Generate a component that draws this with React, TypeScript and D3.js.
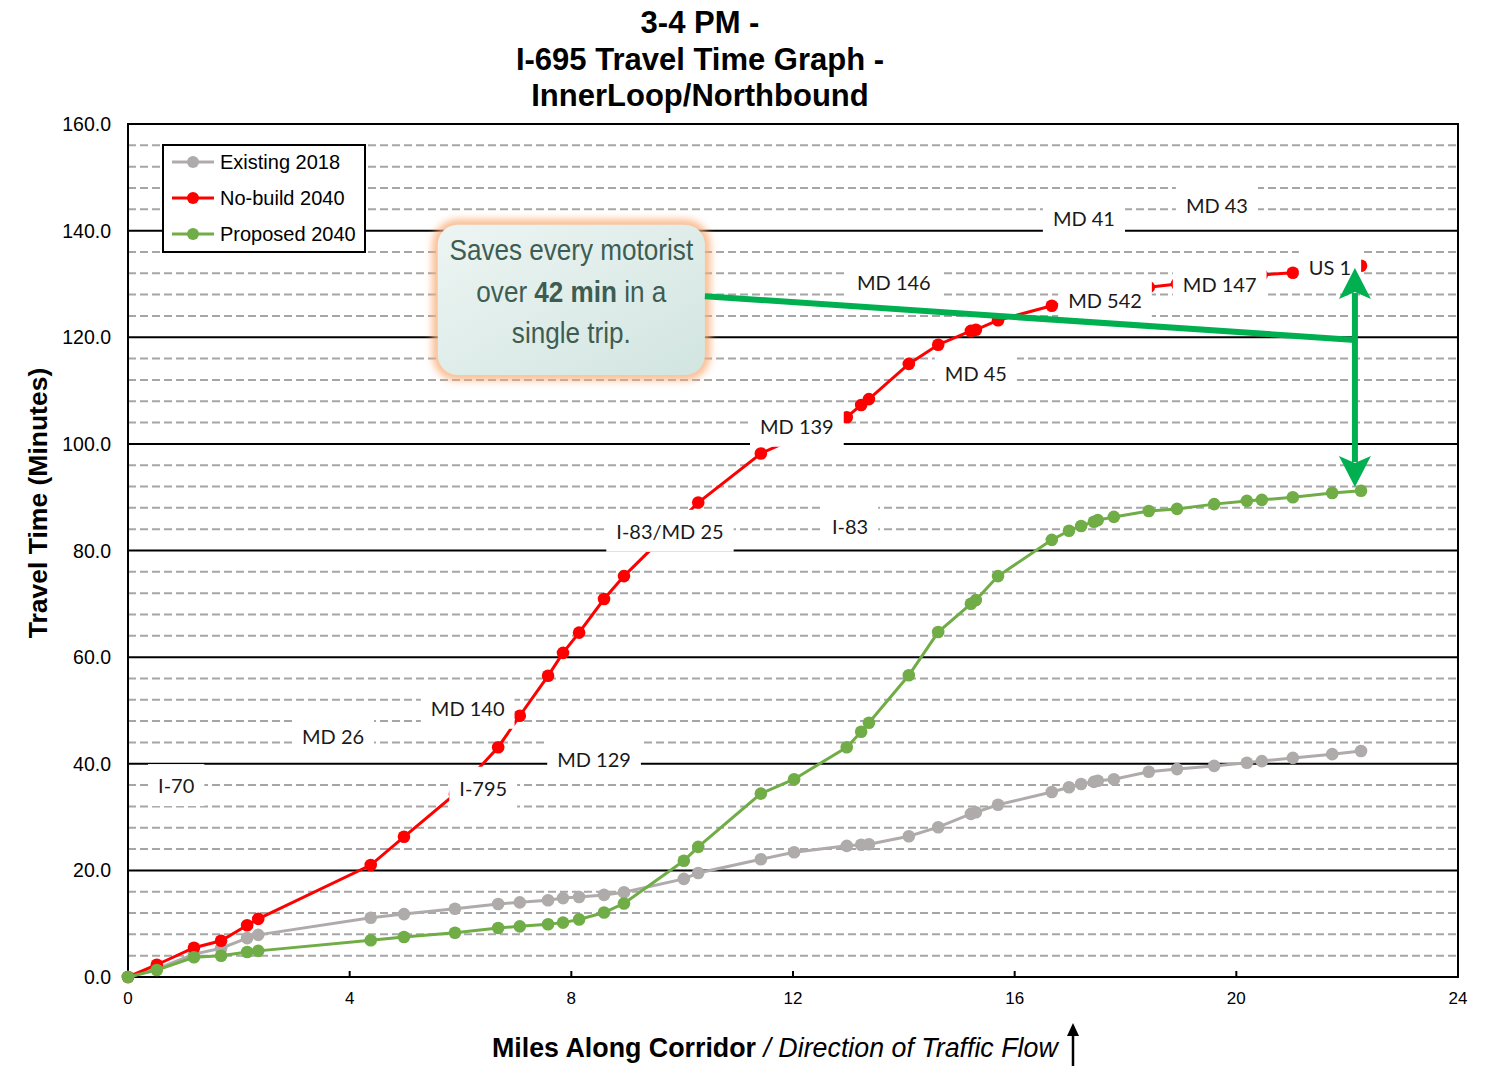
import React, { useEffect, useRef } from "react";
import * as d3 from "d3";

// miles along corridor, shared by every series
const miles = [
  0, 0.52, 1.19, 1.68, 2.15, 2.35, 4.38, 4.98, 5.9, 6.68, 7.07, 7.58, 7.85, 8.14, 8.59, 8.95,
  10.03, 10.29, 11.42, 12.02, 12.97, 13.23, 13.37, 14.09, 14.62, 15.21, 15.3, 15.7, 16.67,
  16.98, 17.2, 17.43, 17.5, 17.79, 18.42, 18.93, 19.6, 20.19, 20.46, 21.02, 21.73, 22.25,
];

const existing2018 = [
  0, 1.5, 4.3, 5.4, 7.3, 7.9, 11.1, 11.8, 12.8, 13.7, 14.0, 14.4, 14.8, 15.0, 15.4, 15.9,
  18.4, 19.5, 22.1, 23.4, 24.6, 24.8, 24.9, 26.4, 28.1, 30.6, 30.9, 32.3, 34.7,
  35.6, 36.2, 36.6, 36.8, 37.1, 38.5, 39.0, 39.6, 40.2, 40.5, 41.1, 41.8, 42.4,
];

const noBuild2040 = [
  0, 2.3, 5.5, 6.8, 9.7, 10.9, 21.0, 26.3, 34.3, 43.1, 49.0, 56.5, 60.8, 64.6, 70.9, 75.2,
  86.3, 89.0, 98.2, 101.0, 105.0, 107.3, 108.4, 115.0, 118.6, 121.2, 121.4, 123.2, 125.9,
  126.5, 126.9, 127.4, 127.5, 128.1, 129.4, 130.0, 130.7, 131.3, 131.7, 132.1, 132.8, 133.4,
];

const proposed2040 = [
  0, 1.3, 3.7, 4.0, 4.7, 4.9, 6.9, 7.5, 8.3, 9.2, 9.5, 9.9, 10.2, 10.8, 12.1, 13.8,
  21.8, 24.4, 34.4, 37.1, 43.1, 46.0, 47.7, 56.6, 64.7, 70.0, 70.7, 75.2, 82.0,
  83.7, 84.6, 85.4, 85.7, 86.3, 87.4, 87.8, 88.7, 89.3, 89.5, 90.0, 90.8, 91.2,
];

const seriesNames = ["Existing 2018", "No-build 2040", "Proposed 2040"];

// interchange labels (anchor in miles / minutes)
const routeNames = [
  "I-70", "MD 26", "MD 140", "I-795", "MD 129", "I-83/MD 25", "I-83", "MD 139",
  "MD 45", "MD 146", "MD 542", "MD 41", "MD 43", "MD 147", "US 1",
];
const routeMiles = [0.87, 3.7, 6.13, 6.41, 8.41, 9.78, 13.03, 12.07, 15.3, 13.82, 17.63, 17.25, 19.65, 19.7, 21.69];
const routeMinutes = [36.0, 45.2, 50.5, 35.5, 40.9, 83.7, 84.6, 103.4, 113.3, 130.4, 127.0, 142.4, 144.8, 130.0, 133.2];

const titleLines = ["3-4 PM -", "I-695 Travel Time Graph -", "InnerLoop/Northbound"];

const xTicks = d3.range(0, 25, 4);
const yTicks = d3.range(0, 161, 20);

export default function App() {
  const ref = useRef<SVGSVGElement>(null);

  useEffect(() => {
    document.body.style.margin = "0";
    const svg = d3.select(ref.current);
    svg.selectAll("*").remove();

    const W = 1496;
    const H = 1067;
    const margin = { top: 124, right: 38, bottom: 90, left: 128 };
    const x = d3.scaleLinear().domain([0, 24]).range([margin.left, W - margin.right]);
    const y = d3.scaleLinear().domain([0, 160]).range([H - margin.bottom, margin.top]);
    const sans = "'Liberation Sans', Arial, sans-serif";

    const defs = svg.append("defs");
    const grad = defs
      .append("linearGradient")
      .attr("id", "calloutFill")
      .attr("x1", "0%")
      .attr("y1", "0%")
      .attr("x2", "100%")
      .attr("y2", "100%");
    grad.append("stop").attr("offset", "0%").attr("stop-color", "#edf5f3");
    grad.append("stop").attr("offset", "100%").attr("stop-color", "#d2e5e0");
    defs
      .append("filter")
      .attr("id", "glow")
      .attr("x", "-20%")
      .attr("y", "-20%")
      .attr("width", "140%")
      .attr("height", "140%")
      .append("feGaussianBlur")
      .attr("stdDeviation", 4);

    // grid
    const minor = d3.range(4, 160, 4).filter((v) => v % 20 !== 0);
    svg
      .append("g")
      .selectAll("line")
      .data(minor)
      .join("line")
      .attr("x1", x(0))
      .attr("x2", x(24))
      .attr("y1", (d) => y(d))
      .attr("y2", (d) => y(d))
      .attr("stroke", "#a6a6a6")
      .attr("stroke-width", 2)
      .attr("stroke-dasharray", "8,4");

    svg
      .append("g")
      .selectAll("line")
      .data(d3.range(20, 160, 20))
      .join("line")
      .attr("x1", x(0))
      .attr("x2", x(24))
      .attr("y1", (d) => y(d))
      .attr("y2", (d) => y(d))
      .attr("stroke", "#000")
      .attr("stroke-width", 2);

    svg
      .append("rect")
      .attr("x", x(0))
      .attr("y", y(160))
      .attr("width", x(24) - x(0))
      .attr("height", y(0) - y(160))
      .attr("fill", "none")
      .attr("stroke", "#000")
      .attr("stroke-width", 2);

    // inner ticks on x axis
    svg
      .append("g")
      .selectAll("line")
      .data(xTicks)
      .join("line")
      .attr("x1", (d) => x(d))
      .attr("x2", (d) => x(d))
      .attr("y1", y(0))
      .attr("y2", y(0) - 6)
      .attr("stroke", "#000")
      .attr("stroke-width", 2);

    // tick labels
    svg
      .append("g")
      .selectAll("text")
      .data(yTicks)
      .join("text")
      .attr("x", x(0) - 17)
      .attr("y", (d) => y(d))
      .attr("text-anchor", "end")
      .attr("dominant-baseline", "central")
      .attr("font-family", sans)
      .attr("font-size", 19.5)
      .attr("fill", "#000")
      .text((d) => d.toFixed(1));

    svg
      .append("g")
      .selectAll("text")
      .data(xTicks)
      .join("text")
      .attr("x", (d) => x(d))
      .attr("y", y(0) + 27)
      .attr("text-anchor", "middle")
      .attr("font-family", sans)
      .attr("font-size", 17)
      .attr("fill", "#000")
      .text((d) => d);

    // series
    const series = [
      { name: seriesNames[0], values: existing2018, color: "#afabab" },
      { name: seriesNames[1], values: noBuild2040, color: "#ff0000" },
      { name: seriesNames[2], values: proposed2040, color: "#70ad47" },
    ];
    const line = d3
      .line<number>()
      .x((_, i) => x(miles[i]))
      .y((d) => y(d));

    series.forEach((s) => {
      const g = svg.append("g");
      g.append("path")
        .attr("d", line(s.values))
        .attr("fill", "none")
        .attr("stroke", s.color)
        .attr("stroke-width", 3);
      g.selectAll("circle")
        .data(s.values)
        .join("circle")
        .attr("cx", (_, i) => x(miles[i]))
        .attr("cy", (d) => y(d))
        .attr("r", 6.3)
        .attr("fill", s.color);
    });

    // route labels with white boxes
    const labels = svg.append("g");
    routeNames.forEach((name, i) => {
      const cx = x(routeMiles[i]);
      const cy = y(routeMinutes[i]);
      const g = labels.append("g");
      const rect = g.append("rect").attr("fill", "#fff");
      const t = g
        .append("text")
        .attr("x", cx)
        .attr("y", cy)
        .attr("text-anchor", "middle")
        .attr("dominant-baseline", "central")
        .attr("font-family", "Lato, 'Open Sans', sans-serif")
        .attr("font-size", 20)
        .attr("fill", "#1a1a1a")
        .text(name);
      const w = (t.node() as SVGTextElement).getComputedTextLength();
      rect
        .attr("x", cx - w / 2 - 10)
        .attr("y", cy - 21)
        .attr("width", w + 20)
        .attr("height", 42);
    });

    // legend
    const leg = svg.append("g").attr("transform", `translate(${x(0) + 35},${y(160) + 21})`);
    leg
      .append("rect")
      .attr("width", 202)
      .attr("height", 107)
      .attr("fill", "#fff")
      .attr("stroke", "#000")
      .attr("stroke-width", 2);
    series.forEach((s, i) => {
      const ly = 17 + i * 36;
      leg.append("line")
        .attr("x1", 9)
        .attr("x2", 51)
        .attr("y1", ly)
        .attr("y2", ly)
        .attr("stroke", s.color)
        .attr("stroke-width", 3);
      leg.append("circle").attr("cx", 30).attr("cy", ly).attr("r", 6).attr("fill", s.color);
      leg.append("text")
        .attr("x", 57)
        .attr("y", ly)
        .attr("dominant-baseline", "central")
        .attr("font-family", sans)
        .attr("font-size", 20)
        .attr("fill", "#000")
        .text(s.name);
    });

    // callout box
    const bx0 = x(5.59);
    const bx1 = x(10.41);
    const by0 = y(141.1);
    const by1 = y(112.9);
    svg
      .append("rect")
      .attr("x", bx0)
      .attr("y", by0)
      .attr("width", bx1 - bx0)
      .attr("height", by1 - by0)
      .attr("rx", 20)
      .attr("fill", "none")
      .attr("stroke", "#f9ad78")
      .attr("stroke-width", 9)
      .attr("filter", "url(#glow)");
    svg
      .append("rect")
      .attr("x", bx0)
      .attr("y", by0)
      .attr("width", bx1 - bx0)
      .attr("height", by1 - by0)
      .attr("rx", 20)
      .attr("fill", "url(#calloutFill)");

    const cg = svg.append("g").attr("transform", `translate(${(bx0 + bx1) / 2},0) scale(0.87,1)`);
    const ct = cg
      .append("text")
      .attr("text-anchor", "middle")
      .attr("font-family", sans)
      .attr("font-size", 30)
      .attr("fill", "#3d5d53");
    ct.append("tspan").attr("x", 0).attr("y", 260).text("Saves every motorist");
    const l2 = ct.append("tspan").attr("x", 0).attr("y", 302);
    l2.append("tspan").text("over ");
    l2.append("tspan").attr("font-weight", "bold").text("42 min");
    l2.append("tspan").text(" in a");
    ct.append("tspan").attr("x", 0).attr("y", 343).text("single trip.");

    // savings arrow
    const green = "#00b050";
    const ax = x(22.14);
    const topTip = y(133.0);
    const botTip = y(91.9);
    svg
      .append("line")
      .attr("x1", bx1)
      .attr("y1", y(127.7))
      .attr("x2", ax)
      .attr("y2", y(119.5))
      .attr("stroke", green)
      .attr("stroke-width", 6);
    svg
      .append("line")
      .attr("x1", ax)
      .attr("x2", ax)
      .attr("y1", topTip + 25)
      .attr("y2", botTip - 25)
      .attr("stroke", green)
      .attr("stroke-width", 6);
    svg
      .append("path")
      .attr("d", `M${ax},${topTip} L${ax - 16},${topTip + 31} L${ax},${topTip + 24} L${ax + 16},${topTip + 31} Z`)
      .attr("fill", green);
    svg
      .append("path")
      .attr("d", `M${ax},${botTip} L${ax - 16},${botTip - 31} L${ax},${botTip - 24} L${ax + 16},${botTip - 31} Z`)
      .attr("fill", green);

    // titles
    svg
      .append("text")
      .attr("text-anchor", "middle")
      .attr("font-family", sans)
      .attr("font-weight", "bold")
      .attr("font-size", 31)
      .attr("fill", "#000")
      .selectAll("tspan")
      .data(titleLines)
      .join("tspan")
      .attr("x", 700)
      .attr("y", (_, i) => 33 + i * 36.5)
      .text((d) => d);

    svg
      .append("text")
      .attr("transform", "translate(38,503) rotate(-90)")
      .attr("text-anchor", "middle")
      .attr("dominant-baseline", "central")
      .attr("font-family", sans)
      .attr("font-weight", "bold")
      .attr("font-size", 26.5)
      .attr("fill", "#000")
      .text("Travel Time (Minutes)");

    const xt = svg
      .append("text")
      .attr("x", 492)
      .attr("y", 1057)
      .attr("font-family", sans)
      .attr("font-size", 26.8)
      .attr("fill", "#000");
    xt.append("tspan").attr("font-weight", "bold").text("Miles Along Corridor");
    xt.append("tspan").attr("font-style", "italic").text(" / Direction of Traffic Flow");

    svg
      .append("line")
      .attr("x1", 1073)
      .attr("x2", 1073)
      .attr("y1", 1066)
      .attr("y2", 1032)
      .attr("stroke", "#000")
      .attr("stroke-width", 2.5);
    svg
      .append("path")
      .attr("d", "M1073,1023 L1067,1036 L1079,1036 Z")
      .attr("fill", "#000");
  }, []);

  return <svg ref={ref} width={1496} height={1067} style={{ display: "block", background: "#fff" }} />;
}
